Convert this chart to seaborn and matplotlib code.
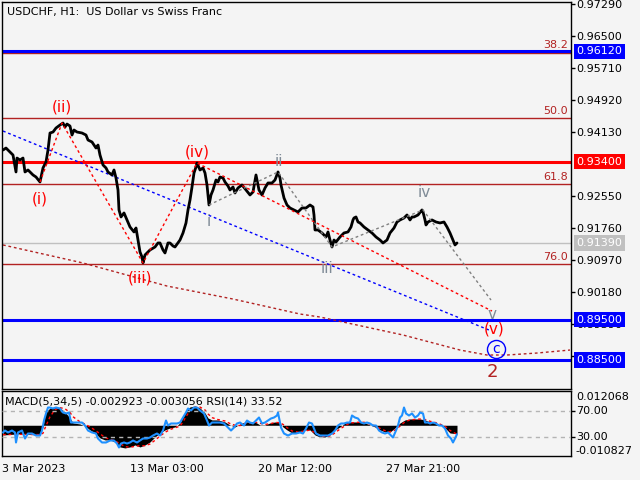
import matplotlib
matplotlib.use("Agg")
import matplotlib.pyplot as plt
import matplotlib.transforms as mtransforms
import pandas as pd
import seaborn as sns

sns.set_style("white")
plt.rcParams["font.family"] = ["DejaVu Sans"]

# ---------------- data ----------------
title = "USDCHF, H1:  US Dollar vs Swiss Franc"
indicator_label = "MACD(5,34,5) -0.002923 -0.003056 RSI(14) 33.52"

price_bars = [0, 3, 7, 10, 13, 14, 17, 20, 22, 25, 27, 30, 33, 37, 40, 43, 45, 47, 50, 53,
              57, 60, 62, 64, 67, 69, 71, 74, 79, 83, 85, 89, 93, 95, 97, 100, 103, 105, 109, 111,
              113, 115, 116, 118, 121, 124, 127, 131, 133, 135, 137, 139, 140, 142, 144, 147, 152, 155, 157, 160,
              162, 165, 167, 170, 172, 177, 180, 183, 185, 187, 189, 191, 193, 194, 197, 200, 202, 204, 206, 208,
              210, 213, 215, 217, 220, 222, 225, 227, 230, 232, 235, 239, 243, 247, 250, 253, 255, 256, 259, 262,
              265, 269, 272, 275, 277, 278, 281, 284, 287, 291, 295, 299, 303, 307, 310, 311, 312, 315, 319, 323,
              325, 327, 329, 331, 333, 337, 341, 345, 348, 350, 351, 353, 355, 357, 361, 365, 369, 373, 377, 380,
              384, 387, 391, 394, 397, 401, 404, 407, 409, 411, 415, 419, 420, 422, 423, 425, 429, 433, 437, 441,
              444, 447, 450, 452, 454]
price_close = [0.93686, 0.93735, 0.93637, 0.93562, 0.93144, 0.93488, 0.93439, 0.93488, 0.93144, 0.93193,
               0.93144, 0.93070, 0.93020, 0.92897, 0.93243, 0.93391, 0.93686, 0.94106, 0.94130, 0.94229,
               0.94303, 0.94352, 0.94254, 0.94328, 0.94278, 0.94056, 0.94180, 0.94130, 0.94106, 0.94056,
               0.93933, 0.93884, 0.93735, 0.93809, 0.93562, 0.93317, 0.93243, 0.93144, 0.93070, 0.93193,
               0.92996, 0.92699, 0.92206, 0.92033, 0.92132, 0.91959, 0.91786, 0.91663, 0.91761, 0.91464,
               0.91169, 0.91045, 0.90897, 0.91095, 0.91144, 0.91218, 0.91292, 0.91391, 0.91391, 0.91218,
               0.91144, 0.91391, 0.91391, 0.91317, 0.91292, 0.91464, 0.91638, 0.91885, 0.92206, 0.92452,
               0.92773, 0.93119, 0.93267, 0.93366, 0.93193, 0.93243, 0.93119, 0.92823, 0.92329, 0.92576,
               0.92699, 0.92946, 0.92897, 0.93020, 0.92996, 0.92897, 0.92798, 0.92699, 0.92773, 0.92625,
               0.92749, 0.92823, 0.92699, 0.92576, 0.92650, 0.93070, 0.92823, 0.92699, 0.92576, 0.92749,
               0.92872, 0.92872, 0.92946, 0.93144, 0.92996, 0.92823, 0.92502, 0.92329, 0.92255, 0.92206,
               0.92156, 0.92255, 0.92255, 0.92329, 0.92280, 0.92082, 0.91712, 0.91712, 0.91638, 0.91539,
               0.91663, 0.91464, 0.91292, 0.91464, 0.91415, 0.91539, 0.91638, 0.91663, 0.91786, 0.91959,
               0.92008, 0.92033, 0.91909, 0.91885, 0.91786, 0.91712, 0.91638, 0.91539, 0.91464, 0.91391,
               0.91464, 0.91638, 0.91761, 0.91909, 0.91959, 0.92008, 0.92082, 0.91959, 0.92033, 0.92033,
               0.92082, 0.92206, 0.92156, 0.91959, 0.91835, 0.91909, 0.91959, 0.91909, 0.91885, 0.91909,
               0.91786, 0.91638, 0.91464, 0.91342, 0.91391]

# Elliott wave polylines (bar index, price)
red_wave_bars = [37, 59, 140, 194, 489]
red_wave_prices = [0.92897, 0.94352, 0.90897, 0.93366, 0.89711]
gray_wave_bars = [206, 275, 329, 420, 488]
gray_wave_prices = [0.92329, 0.93144, 0.91292, 0.92206, 0.89983]
blue_channel_bars = [0, 486]
blue_channel_prices = [0.94155, 0.89242]
trend_bars = [0, 80, 164, 230, 297, 317, 400, 457, 484, 504, 534, 567]
trend_prices = [0.91342, 0.90897, 0.90328, 0.90007, 0.89637, 0.89563, 0.89119, 0.88748, 0.88625,
                0.88625, 0.88674, 0.88748]

# wave labels
red_labels = ["(i)", "(ii)", "(iii)", "(iv)", "(v)"]
red_label_bars = [37, 59, 137, 194, 491]
red_label_prices = [0.92476, 0.94747, 0.90526, 0.93637, 0.89267]
gray_labels = ["i", "ii", "iii", "iv", "v"]
gray_label_bars = [206, 276, 324, 421, 489]
gray_label_prices = [0.91909, 0.93391, 0.90773, 0.92625, 0.89637]
circle_label, circle_bar, circle_price = "c", 493, 0.88773
degree_label, degree_bar, degree_price = "2", 489, 0.88205

# horizontal levels
level_prices = [0.96120, 0.93400, 0.89500, 0.88500]
level_colors = ["#0000ff", "#ff0000", "#0000ff", "#0000ff"]
current_price = 0.91390
fib_prices = [0.96093, 0.94476, 0.92847, 0.90872]
fib_labels = ["38.2", "50.0", "61.8", "76.0"]

price_ticks = [0.97290, 0.96500, 0.95710, 0.94920, 0.94130, 0.92550,
               0.91760, 0.90970, 0.90180, 0.89390, 0.88600]
price_range = (0.87786, 0.97340)

time_tick_bars = [-1, 127, 255, 383]
time_tick_labels = ["3 Mar 2023", "13 Mar 03:00", "20 Mar 12:00", "27 Mar 21:00"]

# MACD histogram and signal
macd_bars = [0, 17, 37, 40, 42, 47, 52, 57, 62, 67, 70, 77, 82, 87, 92, 97, 102, 107, 112, 117,
             122, 127, 132, 137, 142, 147, 152, 157, 162, 167, 172, 177, 180, 183, 187, 192, 197, 202, 205, 209,
             215, 222, 227, 232, 237, 242, 252, 257, 262, 267, 272, 277, 280, 284, 289, 295, 302, 307, 312, 317,
             322, 327, 332, 337, 342, 347, 357, 362, 367, 372, 377, 382, 387, 392, 397, 402, 407, 417, 422, 427,
             432, 437, 442, 447, 452, 454]
macd_main = [-0.00341, -0.00300, -0.00341, -0.00060, 0.00433, 0.00609, 0.00644, 0.00609, 0.00468, 0.00257,
             0.00081, 0.00046, -0.00025, -0.00165, -0.00271, -0.00447, -0.00517, -0.00517, -0.00588, -0.00764,
             -0.00799, -0.00764, -0.00693, -0.00764, -0.00693, -0.00588, -0.00412, -0.00271, -0.00165, -0.00095,
             -0.00060, 0.00081, 0.00292, 0.00539, 0.00644, 0.00679, 0.00609, 0.00433, 0.00257, 0.00187,
             0.00187, 0.00116, 0.00011, -0.00060, 0.00046, 0.00116, 0.00116, 0.00011, 0.00011, 0.00081,
             0.00116, 0.00081, -0.00060, -0.00165, -0.00271, -0.00236, -0.00165, -0.00165, -0.00341, -0.00412,
             -0.00412, -0.00341, -0.00165, -0.00060, 0.00081, 0.00116, 0.00116, 0.00081, 0.00011, -0.00060,
             -0.00165, -0.00236, -0.00236, -0.00095, 0.00081, 0.00187, 0.00222, 0.00222, 0.00187, 0.00116,
             0.00081, 0.00011, -0.00095, -0.00271, -0.00292, -0.002923]
macd_signal = [-0.0033, -0.0032, -0.0033, -0.0028, -0.0010, 0.0030, 0.0055, 0.0062, 0.0058, 0.0045,
               0.0030, 0.0012, 0.0004, -0.0006, -0.0017, -0.0030, -0.0043, -0.0050, -0.0055, -0.0065,
               -0.0075, -0.0078, -0.0074, -0.0072, -0.0072, -0.0066, -0.0053, -0.0038, -0.0025, -0.0015,
               -0.0009, -0.0003, 0.0012, 0.0030, 0.0052, 0.0063, 0.0064, 0.0054, 0.0040, 0.0027,
               0.0020, 0.0015, 0.0006, 0.0000, -0.0001, 0.0006, 0.0011, 0.0007, 0.0003, 0.0005,
               0.0010, 0.0009, 0.0003, -0.0008, -0.0020, -0.0024, -0.0020, -0.0017, -0.0026, -0.0036,
               -0.0040, -0.0038, -0.0027, -0.0013, -0.0002, 0.0008, 0.0011, 0.0010, 0.0004, -0.0002,
               -0.0011, -0.0019, -0.0023, -0.0017, -0.0003, 0.0012, 0.0019, 0.0022, 0.0020, 0.0014,
               0.0010, 0.0004, -0.0004, -0.0018, -0.0028, -0.003056]
macd_range = (-0.010827, 0.012068)

# RSI
rsi_bars = [0, 2, 5, 9, 12, 13, 15, 19, 22, 25, 29, 33, 37, 39, 41, 43, 45, 47, 50, 53,
            57, 60, 63, 66, 68, 71, 75, 79, 82, 85, 89, 93, 95, 99, 103, 107, 111, 114, 116, 118,
            121, 124, 127, 130, 134, 137, 140, 144, 147, 150, 154, 157, 160, 163, 165, 168, 171, 174, 177, 180,
            183, 185, 188, 191, 194, 197, 201, 204, 206, 209, 213, 217, 221, 225, 228, 231, 234, 237, 241, 244,
            247, 250, 253, 256, 259, 262, 265, 268, 271, 274, 275, 278, 281, 285, 289, 293, 297, 300, 303, 306,
            309, 311, 313, 317, 321, 325, 329, 332, 335, 338, 341, 344, 347, 349, 352, 355, 358, 361, 364, 367,
            370, 373, 376, 379, 382, 385, 388, 390, 393, 395, 397, 399, 401, 403, 406, 409, 412, 415, 417, 420,
            422, 425, 427, 430, 433, 436, 439, 442, 445, 448, 450, 452, 454]
rsi_vals = [36.2, 39.2, 36.2, 39.2, 36.2, 20.8, 36.2, 39.2, 26.9, 34.6, 34.6, 31.5, 31.5, 39.2, 54.6, 65.4, 74.6, 74.6, 73.1, 74.6,
            73.1, 66.9, 65.4, 66.9, 51.5, 51.5, 51.5, 51.5, 46.9, 39.2, 36.2, 34.6, 26.9, 20.8, 20.8, 23.8, 23.8, 19.2, 13.1, 19.2,
            20.8, 19.2, 20.8, 23.8, 20.8, 23.8, 26.9, 26.9, 28.5, 31.5, 34.6, 31.5, 39.2, 54.6, 46.9, 50.0, 50.0, 50.0, 51.5, 59.2,
            66.9, 73.1, 70.0, 74.6, 74.6, 70.0, 65.4, 54.6, 46.9, 51.5, 51.5, 51.5, 50.0, 43.8, 39.2, 43.8, 50.0, 51.5, 46.9, 54.6,
            51.5, 50.0, 54.6, 59.2, 50.0, 51.5, 54.6, 57.7, 59.2, 62.3, 66.9, 43.8, 34.6, 31.5, 34.6, 34.6, 36.2, 34.6, 42.3, 51.5,
            50.0, 42.3, 34.6, 31.5, 31.5, 31.5, 34.6, 39.2, 46.9, 50.0, 50.0, 51.5, 51.5, 62.3, 59.2, 57.7, 51.5, 50.0, 51.5, 50.0,
            46.9, 46.9, 39.2, 36.2, 34.6, 36.2, 31.5, 28.5, 39.2, 46.9, 59.2, 62.3, 74.6, 65.4, 62.3, 65.4, 59.2, 62.3, 66.9, 65.4,
            51.5, 51.5, 50.0, 51.5, 50.0, 46.9, 46.9, 42.3, 31.5, 26.9, 20.8, 26.9, 33.5]
rsi_levels = [30, 70]

# ---------------- drawing ----------------
BG = "#f4f4f4"
FIB_COLOR = "#b22222"
GRAY_WAVE = "#7f8b97"
W, H = 640, 480


def fx(px):
    return px / W


def fy(py):
    return 1 - py / H


fig = plt.figure(figsize=(6.4, 4.8), dpi=100, facecolor=BG)
ax = fig.add_axes([fx(2), fy(389), fx(571) - fx(2), fy(2) - fy(389)])
ax2 = fig.add_axes([fx(2), fy(456), fx(571) - fx(2), fy(391) - fy(456)])
ax3 = ax2.twinx()

for a in (ax, ax2):
    a.set_facecolor(BG)
    for s in a.spines.values():
        s.set_color("black")
        s.set_linewidth(1)
ax3.patch.set_visible(False)
for s in ax3.spines.values():
    s.set_visible(False)

xlim = (-1, 568)
ax.set_xlim(*xlim)
ax2.set_xlim(*xlim)
ax.set_ylim(*price_range)

# horizontal levels
for p in fib_prices:
    ax.axhline(p, color=FIB_COLOR, lw=1, zorder=1)
ax.axhline(current_price, color="#c0c0c0", lw=1, zorder=1)
for p, c in zip(level_prices, level_colors):
    ax.axhline(p, color=c, lw=2.2, zorder=2)

# wave lines
dot = (0, (2, 2))
ax.plot(trend_bars, trend_prices, color=FIB_COLOR, lw=1, ls=dot, zorder=2)
ax.plot(blue_channel_bars, blue_channel_prices, color="#0000ff", lw=1, ls=dot, zorder=2)

# price
dfp = pd.DataFrame({"bar": price_bars, "close": price_close})
sns.lineplot(data=dfp, x="bar", y="close", ax=ax, color="black", lw=2.0, zorder=3)

ax.plot(red_wave_bars, red_wave_prices, color="#ff0000", lw=1, ls=dot, zorder=4)
ax.plot(gray_wave_bars, gray_wave_prices, color="#808080", lw=1, ls=dot, zorder=4)

# wave labels
for t, b, p in zip(red_labels, red_label_bars, red_label_prices):
    ax.text(b, p, t, color="#ff0000", fontsize=11, ha="center", va="center", zorder=6)
for t, b, p in zip(gray_labels, gray_label_bars, gray_label_prices):
    ax.text(b, p, t, color=GRAY_WAVE, fontsize=11, ha="center", va="center", zorder=6)
ax.plot([circle_bar], [circle_price], marker="o", ms=13, mfc="none", mec="#0000ff", mew=1, zorder=6)
ax.text(circle_bar, circle_price, circle_label, color="#0000ff", fontsize=10, ha="center", va="center", zorder=6)
ax.text(degree_bar, degree_price, degree_label, color=FIB_COLOR, fontsize=13, ha="center", va="center", zorder=6)

# fib labels
for p, t in zip(fib_prices, fib_labels):
    ax.annotate(t, (565, p), xytext=(0, 1.5), textcoords="offset points",
                ha="right", va="bottom", color=FIB_COLOR, fontsize=8, zorder=6)

ax.set_xlabel("")
ax.set_ylabel("")
ax.set_xticks([])
ax.yaxis.tick_right()
ax.set_yticks(price_ticks)
ax.set_yticklabels([f"{v:.5f}" for v in price_ticks])
ax.tick_params(axis="y", direction="out", length=3, width=1, pad=1, labelsize=8, colors="black")

trans = mtransforms.blended_transform_factory(ax.transAxes, ax.transData)
xoff = 1.0 + 5.5 / 569
for p, c in zip(level_prices, level_colors):
    ax.text(xoff, p, f"{p:.5f}", transform=trans, ha="left", va="center", color="white", fontsize=8,
            bbox=dict(boxstyle="square,pad=0.25", fc=c, ec="none"), clip_on=False, zorder=10)
ax.text(xoff, current_price, f"{current_price:.5f}", transform=trans, ha="left", va="center", color="white",
        fontsize=8, bbox=dict(boxstyle="square,pad=0.25", fc="#c0c0c0", ec="none"), clip_on=False, zorder=10)

# ---------------- indicator panel ----------------
ax2.set_ylim(*macd_range)
ax2.fill_between(macd_bars, 0, macd_main, color="black", lw=0, zorder=2)
dfs = pd.DataFrame({"bar": macd_bars, "signal": macd_signal})
sns.lineplot(data=dfs, x="bar", y="signal", ax=ax2, color="#ff0000", lw=1, ls=dot, zorder=3)
ax2.set_xlabel("")
ax2.set_ylabel("")
ax2.set_yticks([])
ax2.set_xticks(time_tick_bars)
ax2.set_xticklabels(time_tick_labels)
for lab in ax2.get_xticklabels():
    lab.set_ha("left")
ax2.tick_params(axis="x", direction="out", length=4, width=1, pad=2, labelsize=8, colors="black")

ax3.set_ylim(0, 100)
for lv in rsi_levels:
    ax3.axhline(lv, color="#b4b4b4", lw=1, ls=(0, (3, 3)), zorder=1)
dfr = pd.DataFrame({"bar": rsi_bars, "rsi": rsi_vals})
sns.lineplot(data=dfr, x="bar", y="rsi", ax=ax3, color="#1e90ff", lw=1.5, zorder=4)
ax3.set_xlim(*xlim)
ax3.set_ylabel("")
ax3.set_yticks(rsi_levels)
ax3.set_yticklabels([f"{v:.2f}" for v in rsi_levels])
ax3.tick_params(axis="y", direction="out", length=3, width=1, pad=1, labelsize=8, colors="black")

ax2.text(xoff - 0.001, 0.98, f"{macd_range[1]:.6f}", transform=ax2.transAxes, ha="left", va="top",
         fontsize=8, color="black", clip_on=False)
ax2.text(xoff - 0.002, 0.0, f"{macd_range[0]:.6f}", transform=ax2.transAxes, ha="left", va="bottom",
         fontsize=8, color="black", clip_on=False)

fig.text(fx(7), fy(12), title, ha="left", va="center", fontsize=8, color="black")
fig.text(fx(5), fy(402), indicator_label, ha="left", va="center", fontsize=8, color="black")

fig.savefig("out.png", dpi=100, facecolor=BG)
